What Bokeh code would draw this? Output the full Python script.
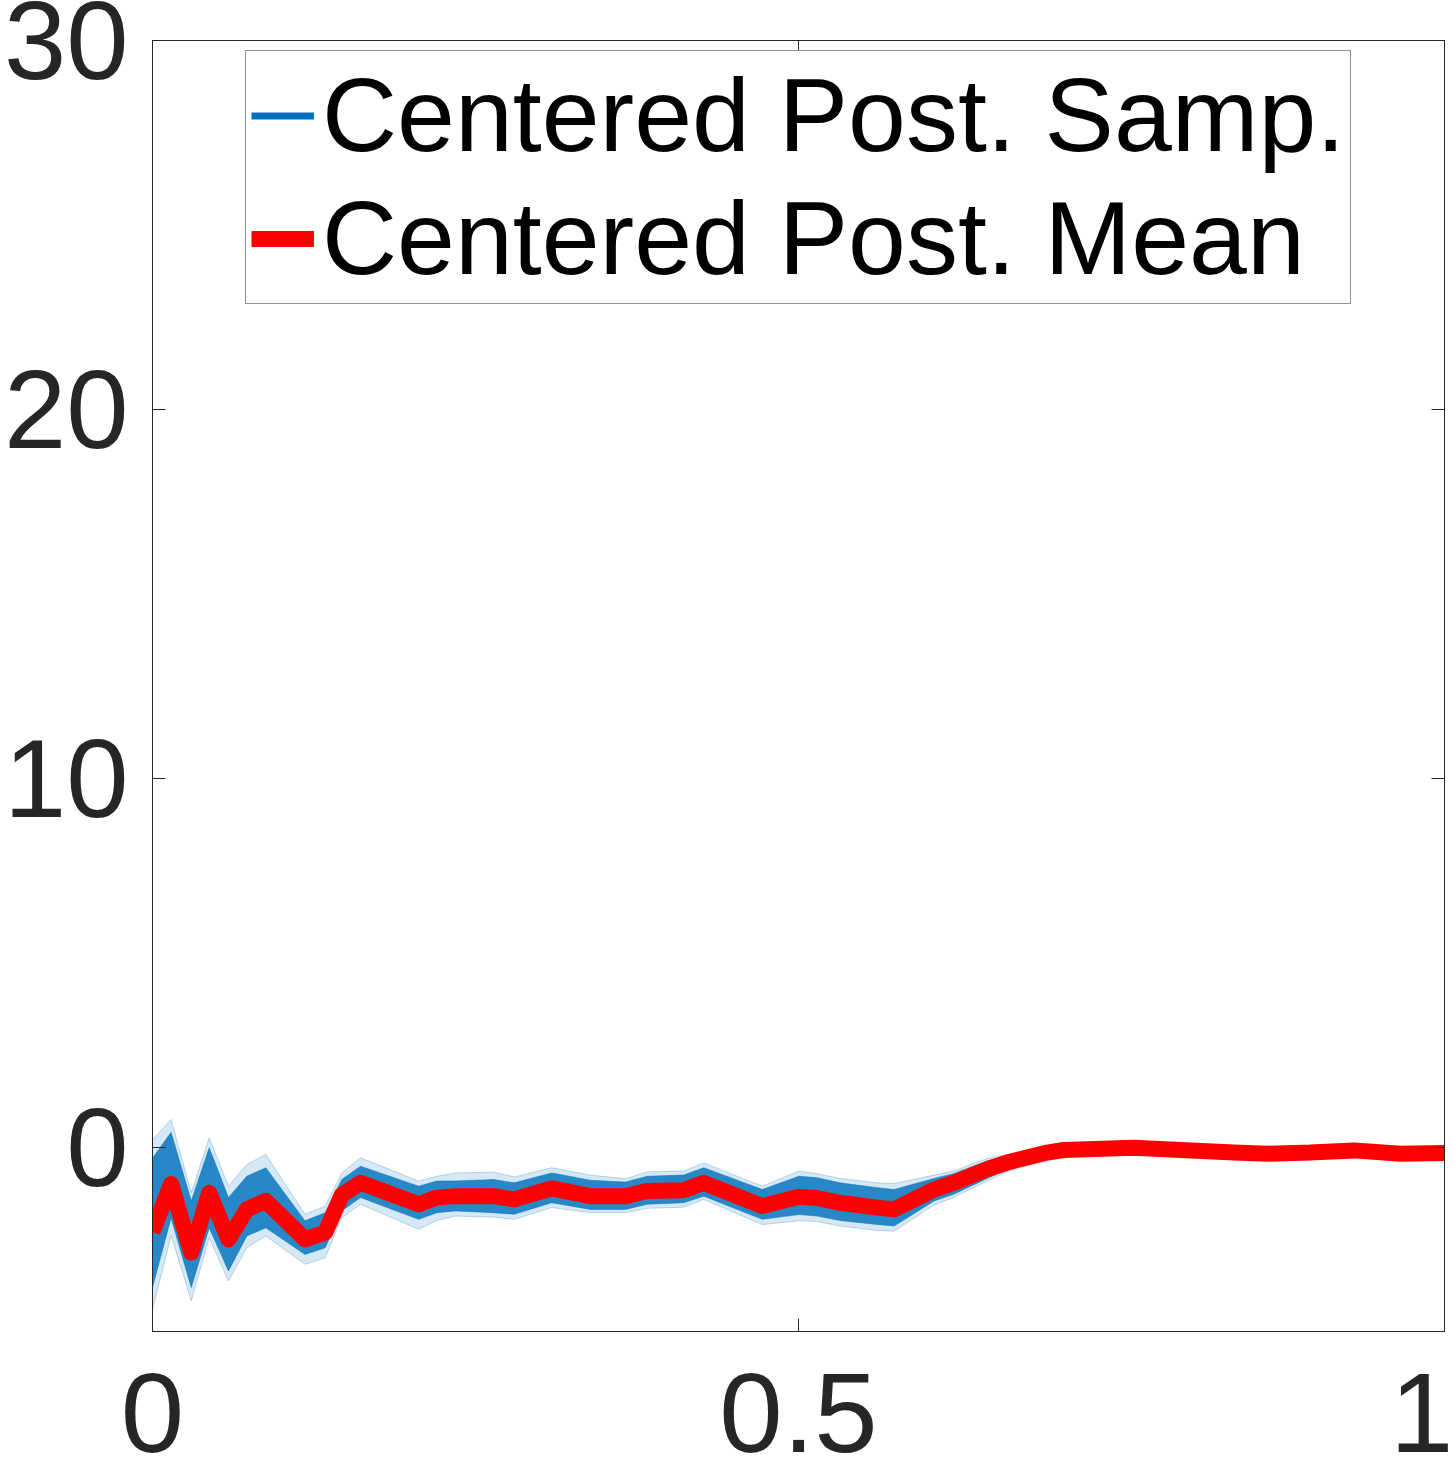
from bokeh.plotting import figure
from bokeh.models import LinearAxis, FixedTicker, Range1d, Legend, LegendItem
from bokeh.embed import file_html
from bokeh.resources import INLINE

# ---- data ----
t = [0, 0.0144, 0.030, 0.0439, 0.0588, 0.073, 0.0877, 0.118, 0.1337, 0.1465,
     0.161, 0.206, 0.22, 0.2345, 0.264, 0.28, 0.309, 0.339, 0.366, 0.383,
     0.411, 0.4267, 0.472, 0.5003, 0.5144, 0.532, 0.561, 0.574, 0.605, 0.620,
     0.646, 0.6615, 0.6925, 0.705, 0.7595, 0.837, 0.863, 0.896, 0.93, 0.966, 1.0]

post_mean = [-2.3, -1.0, -2.86, -1.24, -2.5, -1.69, -1.46, -2.5, -2.32, -1.3,
             -0.97, -1.55, -1.37, -1.33, -1.33, -1.42, -1.12, -1.33, -1.33, -1.19,
             -1.17, -0.97, -1.6, -1.35, -1.38, -1.51, -1.64, -1.69, -1.15, -0.97,
             -0.6, -0.42, -0.15, -0.08, -0.02, -0.15, -0.18, -0.15, -0.09, -0.18, -0.16]

# envelope of the posterior samples (faint outer extent and dense core)
samp_outer_hi = [0.2, 0.75, -1.24, 0.25, -1.06, -0.47, -0.2, -1.82, -1.6, -0.70,
                 -0.29, -0.92, -0.79, -0.70, -0.68, -0.81, -0.56, -0.76, -0.86, -0.67,
                 -0.65, -0.43, -1.06, -0.65, -0.72, -0.85, -0.97, -0.99, -0.76, -0.65,
                 -0.31, -0.20, -0.10, -0.08, -0.02, -0.15, -0.18, -0.15, -0.09, -0.18, -0.16]
samp_core_hi = [-0.3, 0.40, -1.46, -0.02, -1.37, -0.79, -0.56, -2.0, -1.78, -0.88,
                -0.52, -1.06, -0.92, -0.92, -0.88, -0.97, -0.70, -0.90, -0.95, -0.79,
                -0.76, -0.56, -1.15, -0.79, -0.83, -0.97, -1.10, -1.15, -0.85, -0.72,
                -0.38, -0.24, -0.12, -0.08, -0.02, -0.15, -0.18, -0.15, -0.09, -0.18, -0.16]
samp_core_lo = [-3.8, -1.92, -3.81, -2.19, -3.36, -2.41, -2.19, -2.91, -2.73, -1.73,
                -1.37, -1.96, -1.78, -1.73, -1.78, -1.82, -1.51, -1.69, -1.69, -1.55,
                -1.51, -1.33, -1.96, -1.83, -1.87, -1.99, -2.10, -2.14, -1.46, -1.28,
                -0.85, -0.61, -0.18, -0.08, -0.02, -0.15, -0.18, -0.15, -0.09, -0.18, -0.16]
samp_outer_lo = [-4.4, -2.4, -4.17, -2.46, -3.63, -2.73, -2.41, -3.18, -3.0, -1.92,
                 -1.55, -2.23, -1.99, -1.87, -1.90, -1.96, -1.64, -1.78, -1.78, -1.66,
                 -1.63, -1.42, -2.10, -2.0, -2.02, -2.14, -2.26, -2.28, -1.57, -1.37,
                 -0.92, -0.67, -0.20, -0.08, -0.02, -0.15, -0.18, -0.15, -0.09, -0.18, -0.16]

x_range = (0, 1)
y_range = (-5, 30)
x_ticks = [0, 0.5, 1]
x_tick_labels = ["0", "0.5", "1"]
y_ticks = [0, 10, 20, 30]
y_tick_labels = ["0", "10", "20", "30"]

legend_labels = ["Centered Post. Samp.", "Centered Post. Mean"]

# ---- figure ----
FONT = "Liberation Sans"
AX = "#262626"
BLUE = "#0072BD"

p = figure(width=1453, height=1469, output_backend="svg", toolbar_location=None,
           x_range=Range1d(*x_range), y_range=Range1d(*y_range), title=None,
           min_border_left=152, min_border_top=40, min_border_right=9, min_border_bottom=138)
p.background_fill_color = "white"
p.border_fill_color = "white"
p.grid.visible = False
p.outline_line_color = AX
p.outline_line_width = 1

def style_axis(ax, ticks, labels, font_size=None):
    ax.ticker = FixedTicker(ticks=ticks)
    ax.major_tick_in = 13
    ax.major_tick_out = 0
    ax.minor_tick_line_color = None
    ax.major_tick_line_color = AX
    ax.axis_line_color = AX
    ax.major_label_text_color = AX
    ax.major_label_text_font = FONT
    if font_size:
        ax.major_label_overrides = {tk: lb for tk, lb in zip(ticks, labels)}
        ax.major_label_text_font_size = font_size
    else:
        ax.major_label_overrides = {tk: "" for tk in ticks}
        ax.major_label_text_font_size = "1px"
        ax.major_label_standoff = 0

style_axis(p.yaxis[0], y_ticks, y_tick_labels, "112px")
p.yaxis[0].major_label_standoff = 24
style_axis(p.xaxis[0], x_ticks, x_tick_labels, "114px")
p.xaxis[0].major_label_standoff = 42

ax_top = LinearAxis()
style_axis(ax_top, x_ticks, x_tick_labels)
p.add_layout(ax_top, "above")
ax_right = LinearAxis()
style_axis(ax_right, y_ticks, y_tick_labels)
p.add_layout(ax_right, "right")

# posterior samples: faint outer spread and dense core
p.varea(x=t, y1=samp_outer_lo, y2=samp_outer_hi, fill_color=BLUE, fill_alpha=0.16)
p.varea(x=t, y1=samp_core_lo, y2=samp_core_hi, fill_color=BLUE, fill_alpha=0.82)
for edge, a in ((samp_outer_hi, 0.25), (samp_outer_lo, 0.25), (samp_core_hi, 0.5), (samp_core_lo, 0.5)):
    p.line(t, edge, line_color=BLUE, line_width=1, line_alpha=a)

# legend key for the samples (a single point: draws nothing in the plot)
samp_key = p.line(x=t[:1], y=post_mean[:1], line_color=BLUE, line_width=7)
mean_r = p.line(t, post_mean, line_color="#FF0000", line_width=16, line_join="round")

legend = Legend(items=[LegendItem(label=legend_labels[0], renderers=[samp_key]),
                       LegendItem(label=legend_labels[1], renderers=[mean_r])],
                location=(93, 1027))
legend.label_text_font = FONT
legend.label_text_font_size = "104px"
legend.label_text_color = "black"
legend.glyph_width = 63
legend.glyph_height = 105
legend.label_height = 105
legend.label_standoff = 8
legend.padding = 5
legend.spacing = 4
legend.margin = 0
legend.border_line_color = AX
legend.border_line_width = 1
legend.background_fill_color = "white"
legend.background_fill_alpha = 1
p.add_layout(legend)

open("out.html", "w").write(file_html(p, INLINE))
